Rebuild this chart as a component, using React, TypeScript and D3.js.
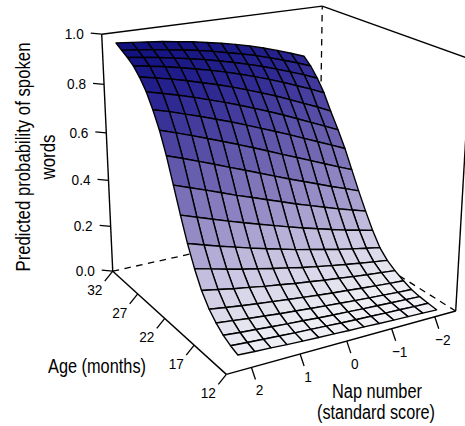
import React from "react";
import * as d3 from "d3";

const width = 465;
const height = 426;

// tick labels
const probTicks = [0, 0.2, 0.4, 0.6, 0.8, 1];
const ageTicks = [32, 27, 22, 17, 12];
const napTicks = [2, 1, 0, -1, -2];

// grid of the fitted surface, front row (age 12) first
const ageGrid = [12, 13.1, 14.2, 15.3, 16.4, 17.6, 18.7, 19.8, 20.9, 22, 23.1, 24.2, 25.3, 26.4, 27.6, 28.7, 29.8, 30.9, 32];
const napGrid = [2.28, 1.94, 1.61, 1.28, 0.95, 0.61, 0.28, -0.05, -0.38, -0.72, -1.05, -1.38, -1.72, -2.05];

// predicted probability, one row per age, one value per nap number
const prob: number[][] = [
  [0.065, 0.061, 0.058, 0.054, 0.051, 0.048, 0.046, 0.043, 0.041, 0.038, 0.036, 0.034, 0.032, 0.03],
  [0.076, 0.071, 0.067, 0.063, 0.059, 0.056, 0.053, 0.049, 0.046, 0.044, 0.041, 0.039, 0.036, 0.034],
  [0.092, 0.086, 0.081, 0.076, 0.071, 0.067, 0.062, 0.058, 0.055, 0.051, 0.048, 0.045, 0.042, 0.039],
  [0.116, 0.109, 0.101, 0.095, 0.088, 0.083, 0.077, 0.072, 0.067, 0.062, 0.058, 0.054, 0.05, 0.047],
  [0.147, 0.138, 0.129, 0.121, 0.114, 0.107, 0.1, 0.093, 0.087, 0.082, 0.076, 0.071, 0.066, 0.062],
  [0.197, 0.185, 0.173, 0.163, 0.152, 0.143, 0.133, 0.125, 0.116, 0.109, 0.101, 0.094, 0.088, 0.082],
  [0.262, 0.246, 0.23, 0.215, 0.202, 0.188, 0.176, 0.163, 0.152, 0.141, 0.131, 0.122, 0.113, 0.105],
  [0.341, 0.321, 0.302, 0.284, 0.266, 0.249, 0.233, 0.217, 0.203, 0.189, 0.175, 0.163, 0.151, 0.14],
  [0.434, 0.412, 0.391, 0.37, 0.35, 0.33, 0.311, 0.292, 0.274, 0.257, 0.24, 0.224, 0.209, 0.195],
  [0.534, 0.511, 0.489, 0.466, 0.443, 0.421, 0.399, 0.378, 0.356, 0.336, 0.316, 0.296, 0.278, 0.26],
  [0.632, 0.609, 0.586, 0.563, 0.539, 0.515, 0.491, 0.467, 0.443, 0.42, 0.397, 0.374, 0.352, 0.33],
  [0.715, 0.694, 0.672, 0.65, 0.627, 0.603, 0.579, 0.554, 0.529, 0.504, 0.479, 0.454, 0.429, 0.405],
  [0.78, 0.762, 0.742, 0.722, 0.701, 0.679, 0.656, 0.632, 0.608, 0.583, 0.557, 0.532, 0.506, 0.48],
  [0.835, 0.819, 0.802, 0.784, 0.764, 0.744, 0.722, 0.699, 0.676, 0.651, 0.625, 0.599, 0.572, 0.545],
  [0.878, 0.865, 0.851, 0.835, 0.818, 0.8, 0.781, 0.76, 0.738, 0.715, 0.69, 0.664, 0.638, 0.61],
  [0.909, 0.898, 0.887, 0.874, 0.86, 0.845, 0.829, 0.811, 0.792, 0.771, 0.749, 0.725, 0.701, 0.675],
  [0.929, 0.92, 0.911, 0.9, 0.889, 0.876, 0.862, 0.847, 0.83, 0.812, 0.792, 0.771, 0.749, 0.725],
  [0.945, 0.938, 0.93, 0.921, 0.912, 0.901, 0.889, 0.875, 0.861, 0.845, 0.827, 0.808, 0.787, 0.765],
  [0.962, 0.956, 0.95, 0.943, 0.934, 0.925, 0.914, 0.902, 0.889, 0.874, 0.857, 0.838, 0.817, 0.795],
];

// data -> unit cube
const napU = d3.scaleLinear().domain([2.5, -2.5]).range([0, 1]);
const ageV = d3.scaleLinear().domain([12, 32]).range([0, 1]);
const probW = d3.scaleLinear().domain([0, 1]).range([0, 1]);

// camera: where the box corners land on the page, solved into a projection below
const boxCorners: number[][] = [
  [0, 0, 0, 226, 374],
  [1, 0, 0, 456, 311],
  [0, 1, 0, 113, 272],
  [1, 1, 0, 318.6, 225],
  [0, 0, 1, 222.6, 98.6],
  [0, 1, 1, 102, 34],
  [1, 1, 1, 322, 6],
  [1, 0, 1, 470.6, 60],
];
// the mesh sits a touch further in at the far left corner than the drawn box suggests
const meshCorners = boxCorners.map((c) =>
  c[0] === 0 && c[1] === 1 ? [c[0], c[1], c[2], c[3] + 4, c[4]] : c
);

function solveCamera(corners: number[][]) {
  const rows: number[][] = [];
  const rhs: number[] = [];
  corners.forEach(([u, v, w, sx, sy]) => {
    rows.push([u, v, w, 1, 0, 0, 0, 0, -sx * u, -sx * v, -sx * w]);
    rhs.push(sx);
    rows.push([0, 0, 0, 0, u, v, w, 1, -sy * u, -sy * v, -sy * w]);
    rhs.push(sy);
  });
  const n = 11;
  const m = d3.range(n).map((i) => [
    ...d3.range(n).map((j) => d3.sum(rows, (r) => r[i] * r[j])),
    d3.sum(rows, (r, k) => r[i] * rhs[k]),
  ]);
  for (let c = 0; c < n; c++) {
    let p = c;
    for (let r = c + 1; r < n; r++) if (Math.abs(m[r][c]) > Math.abs(m[p][c])) p = r;
    [m[c], m[p]] = [m[p], m[c]];
    for (let r = 0; r < n; r++) {
      if (r === c) continue;
      const f = m[r][c] / m[c][c];
      for (let k = c; k <= n; k++) m[r][k] -= f * m[c][k];
    }
  }
  return m.map((r, i) => r[n] / r[i]);
}

function toPage(cam: number[], u: number, v: number, w: number): [number, number] {
  const d = cam[8] * u + cam[9] * v + cam[10] * w + 1;
  return [
    (cam[0] * u + cam[1] * v + cam[2] * w + cam[3]) / d,
    (cam[4] * u + cam[5] * v + cam[6] * w + cam[7]) / d,
  ];
}

const boxCam = solveCamera(boxCorners);
const meshCam = solveCamera(meshCorners);

const cube = (u: number, v: number, w: number) => toPage(boxCam, u, v, w);
const project = (nap: number, age: number, p: number) => cube(napU(nap), ageV(age), probW(p));
const projectMesh = (nap: number, age: number, p: number) =>
  toPage(meshCam, napU(nap), ageV(age), probW(p));

const fill = d3
  .scaleLinear<string>()
  .domain([0.02, 0.06, 0.1, 0.2, 0.35, 0.5, 0.65, 0.8, 0.95])
  .range(["#f4f4f8", "#eeeef5", "#e3e3ef", "#cbc6e2", "#9b92c9", "#7369b3", "#4f46a3", "#2a2590", "#10107f"])
  .clamp(true);

const line = d3.line();

const font = "'Liberation Sans', Arial, sans-serif";

// the journal face is narrower than anything installed, so squeeze the glyphs
function TickLabel({ x, y, anchor, children }: any) {
  return (
    <text transform={`translate(${x},${y}) scale(0.88,1)`} fontSize={15.5} textAnchor={anchor}>
      {children}
    </text>
  );
}

function Title({ x, y, w, rotate, children }: any) {
  return (
    <text
      transform={`translate(${x},${y})${rotate ? " rotate(-90)" : ""}`}
      fontSize={19.5}
      textAnchor="middle"
      textLength={w}
      lengthAdjust="spacingAndGlyphs"
    >
      {children}
    </text>
  );
}

export default function App() {
  const cells = [];
  // back rows first so nearer facets paint over them
  for (let i = ageGrid.length - 2; i >= 0; i--) {
    for (let j = napGrid.length - 2; j >= 0; j--) {
      const pts = [
        projectMesh(napGrid[j], ageGrid[i], prob[i][j]),
        projectMesh(napGrid[j + 1], ageGrid[i], prob[i][j + 1]),
        projectMesh(napGrid[j + 1], ageGrid[i + 1], prob[i + 1][j + 1]),
        projectMesh(napGrid[j], ageGrid[i + 1], prob[i + 1][j]),
      ];
      const mean = (prob[i][j] + prob[i][j + 1] + prob[i + 1][j + 1] + prob[i + 1][j]) / 4;
      cells.push(
        <path
          key={`${i}-${j}`}
          d={line(pts) + "Z"}
          fill={fill(mean)}
          stroke="#000"
          strokeWidth={1.4}
          strokeLinejoin="round"
        />
      );
    }
  }

  const solid = [
    [[0, 0, 0], [0, 1, 0]],
    [[0, 0, 0], [1, 0, 0]],
    [[0, 1, 0], [0, 1, 1]],
    [[0, 1, 1], [1, 1, 1]],
    [[1, 1, 1], [1, 0, 1]],
    [[1, 0, 1], [1, 0, 0]],
  ];
  const dashed = [
    [[0, 1, 0], [1, 1, 0]],
    [[1, 0, 0], [1, 1, 0]],
    [[1, 1, 0], [1, 1, 1]],
  ];
  const edge = (e: number[][]) =>
    line(e.map((c) => cube(c[0], c[1], c[2])));

  return (
    <svg
      width={width}
      height={height}
      style={{ position: "absolute", left: 0, top: 0, background: "#fff" }}
      fontFamily={font}
      fill="#000"
    >
      {dashed.map((e, i) => (
        <path key={i} d={edge(e) as string} fill="none" stroke="#000" strokeWidth={1.3} strokeDasharray="6.5 5.5" />
      ))}
      {cells}
      {solid.map((e, i) => (
        <path key={i} d={edge(e) as string} fill="none" stroke="#000" strokeWidth={1.4} />
      ))}

      {probTicks.map((t) => {
        const [x, y] = project(2.5, 32, t);
        return (
          <g key={t}>
            <line x1={x} y1={y} x2={x - 11} y2={y - 1} stroke="#000" strokeWidth={1.3} />
            <TickLabel x={x - 18} y={y + 5} anchor="end">
              {d3.format(".1f")(t)}
            </TickLabel>
          </g>
        );
      })}
      {ageTicks.map((t) => {
        const [x, y] = project(2.5, t, 0);
        return (
          <g key={t}>
            <line x1={x} y1={y} x2={x - 8} y2={y + 10} stroke="#000" strokeWidth={1.3} />
            <TickLabel x={x - 18} y={y + 24} anchor="middle">
              {t}
            </TickLabel>
          </g>
        );
      })}
      {napTicks.map((t) => {
        const [x, y] = project(t, 12, 0);
        return (
          <g key={t}>
            <line x1={x} y1={y} x2={x + 4} y2={y + 12} stroke="#000" strokeWidth={1.3} />
            <TickLabel x={x + 8} y={y + 28} anchor="middle">
              {t < 0 ? `\u2212${-t}` : t}
            </TickLabel>
          </g>
        );
      })}

      <Title x={30} y={157} w={229} rotate>
        Predicted probability of spoken
      </Title>
      <Title x={55} y={157} w={45} rotate>
        words
      </Title>
      <Title x={97} y={373} w={98}>
        Age (months)
      </Title>
      <Title x={377} y={398} w={90}>
        Nap number
      </Title>
      <Title x={376} y={419} w={118}>
        (standard score)
      </Title>
    </svg>
  );
}
